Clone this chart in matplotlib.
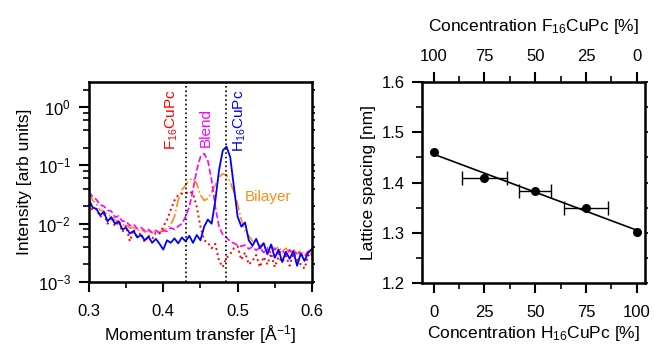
import matplotlib
matplotlib.use("Agg")
import matplotlib.pyplot as plt
import numpy as np
from matplotlib.ticker import MultipleLocator, LogLocator, NullFormatter

plt.rcParams['font.family'] = ['Liberation Sans', 'DejaVu Sans']
plt.rcParams['mathtext.fontset'] = 'custom'
plt.rcParams['mathtext.rm'] = 'Liberation Sans'
plt.rcParams['mathtext.it'] = 'Liberation Sans:italic'
plt.rcParams['mathtext.default'] = 'regular'

# --- left panel: diffraction profiles (momentum transfer in 1/A) ---
q = [0.300, 0.305, 0.310, 0.315, 0.320, 0.325, 0.330, 0.335, 0.340, 0.345,
     0.350, 0.355, 0.360, 0.365, 0.370, 0.375, 0.380, 0.385, 0.390, 0.395,
     0.400, 0.405, 0.410, 0.415, 0.420, 0.425, 0.430, 0.435, 0.440, 0.445,
     0.450, 0.455, 0.460, 0.465, 0.470, 0.475, 0.480, 0.485, 0.490, 0.495,
     0.500, 0.505, 0.510, 0.515, 0.520, 0.525, 0.530, 0.535, 0.540, 0.545,
     0.550, 0.555, 0.560, 0.565, 0.570, 0.575, 0.580, 0.585, 0.590, 0.595,
     0.600]

h16 = [0.026, 0.019, 0.018, 0.014, 0.016, 0.011, 0.013, 0.010, 0.0110, 0.0080,
       0.0085, 0.0068, 0.0075, 0.0058, 0.0064, 0.0052, 0.0060, 0.0047, 0.0055, 0.0045,
       0.0036, 0.0052, 0.0047, 0.0056, 0.0046, 0.0058, 0.0050, 0.0062, 0.0047, 0.0064,
       0.0052, 0.0089, 0.0118, 0.0100, 0.025, 0.083, 0.18, 0.21, 0.14, 0.043,
       0.0132, 0.0089, 0.0105, 0.0052, 0.0042, 0.0055, 0.0038, 0.0046, 0.0030, 0.0044,
       0.0026, 0.0036, 0.0022, 0.0033, 0.0025, 0.0034, 0.0019, 0.0031, 0.0023, 0.0032,
       0.0037]

f16 = [0.022, 0.017, 0.018, 0.013, 0.015, 0.010, 0.013, 0.0090, 0.0110, 0.0072,
       0.0092, 0.0050, 0.0080, 0.0060, 0.0070, 0.0048, 0.0063, 0.0055, 0.0070, 0.0068,
       0.0089, 0.0116, 0.0172, 0.025, 0.031, 0.033, 0.033, 0.036, 0.033, 0.0195,
       0.0089, 0.0052, 0.0047, 0.0038, 0.0045, 0.0023, 0.0018, 0.0026, 0.0030, 0.0038,
       0.0041, 0.0024, 0.0032, 0.0020, 0.0023, 0.0029, 0.0018, 0.0027, 0.0020, 0.0031,
       0.0018, 0.0027, 0.0022, 0.0028, 0.0019, 0.0031, 0.0024, 0.0020, 0.0017, 0.0029,
       0.0025]

blend = [0.035, 0.029, 0.026, 0.021, 0.0200, 0.017, 0.0165, 0.013, 0.0135, 0.011,
         0.0110, 0.0092, 0.0098, 0.0082, 0.0086, 0.0076, 0.0080, 0.0070, 0.0077, 0.0068,
         0.0076, 0.0074, 0.0085, 0.0080, 0.0090, 0.0100, 0.0132, 0.0195, 0.038, 0.083,
         0.14, 0.16, 0.12, 0.056, 0.0195, 0.0089, 0.0065, 0.0058, 0.0050, 0.0046,
         0.0043, 0.0041, 0.0043, 0.0037, 0.0040, 0.0035, 0.0039, 0.0032, 0.0037, 0.0031,
         0.0038, 0.0030, 0.0035, 0.0029, 0.0036, 0.0028, 0.0034, 0.0030, 0.0027, 0.0033,
         0.0029]

bilayer = [0.033, 0.025, 0.022, 0.017, 0.0165, 0.014, 0.0135, 0.0115, 0.0110, 0.0095,
           0.0097, 0.0084, 0.0086, 0.0076, 0.0080, 0.0072, 0.0076, 0.0070, 0.0077, 0.0071,
           0.0079, 0.0083, 0.0096, 0.0132, 0.025, 0.038, 0.046, 0.056, 0.060, 0.049,
           0.031, 0.025, 0.027, 0.035, 0.046, 0.063, 0.072, 0.068, 0.052, 0.035,
           0.022, 0.0116, 0.0074, 0.0062, 0.0050, 0.0052, 0.0041, 0.0047, 0.0039, 0.0043,
           0.0036, 0.0040, 0.0033, 0.0038, 0.0031, 0.0037, 0.0030, 0.0035, 0.0029, 0.0034,
           0.0031]

peak_positions = [0.431, 0.484]

# --- right panel: lattice spacing vs composition ---
conc_h16 = [0, 25, 50, 75, 100]
spacing = [1.460, 1.410, 1.383, 1.350, 1.301]
conc_err = [0, 11, 8, 11, 0]

fig = plt.figure(figsize=(6.54, 3.49), dpi=100)
ax = fig.add_axes([0.136, 0.192, 0.341, 0.573])
ax2 = fig.add_axes([0.646, 0.189, 0.340, 0.576])

# left panel
ax.plot(q, bilayer, color='#ff8c1a', linestyle='-.', lw=1.2)
ax.plot(q, blend, color='#ff00ff', linestyle='--', lw=1.2)
ax.plot(q, f16, color='#ff0000', linestyle=':', lw=1.4)
ax.plot(q, h16, color='#0000ff', linestyle='-', lw=1.3)
for p in peak_positions:
    ax.axvline(p, color='black', linestyle=':', lw=1.2)

ax.set_yscale('log')
ax.set_xlim(0.3, 0.6)
ax.set_ylim(1e-3, 2.7)
ax.xaxis.set_major_locator(MultipleLocator(0.1))
ax.xaxis.set_minor_locator(MultipleLocator(0.05))
ax.yaxis.set_major_locator(LogLocator(base=10, numticks=10))
ax.yaxis.set_minor_locator(LogLocator(base=10, subs=(2, 4, 6, 8), numticks=10))
ax.yaxis.set_minor_formatter(NullFormatter())
ax.tick_params(which='major', direction='out', length=7, width=1.5, labelsize=12, pad=6)
ax.tick_params(axis='x', which='major', pad=9)
ax.tick_params(which='minor', direction='out', length=4, width=1.2)
for s in ax.spines.values():
    s.set_linewidth(1.8)
ax.set_xlabel('Momentum transfer [Å$^{-1}$]', fontsize=12.5, labelpad=3)
ax.set_ylabel('Intensity [arb units]', fontsize=12.5)

axr = ax.twinx()
axr.set_yscale('log')
axr.set_ylim(ax.get_ylim())
axr.yaxis.set_major_locator(LogLocator(base=10, numticks=10))
axr.yaxis.set_minor_locator(LogLocator(base=10, subs=(2, 4, 6, 8), numticks=10))
axr.tick_params(which='both', direction='out', length=2.5, width=1.2, labelright=False)
axr.yaxis.set_minor_formatter(NullFormatter())

ax.text(0.411, 2.0, 'F$_{16}$CuPc', color='#ff0000', rotation=90, ha='center', va='top', fontsize=11)
ax.text(0.4565, 0.95, 'Blend', color='#ff00ff', rotation=90, ha='center', va='top', fontsize=11)
ax.text(0.503, 2.0, 'H$_{16}$CuPc', color='#0000ff', rotation=90, ha='center', va='top', fontsize=11)
ax.text(0.509, 0.029, 'Bilayer', color='#ff8c1a', ha='left', va='center', fontsize=11)

# right panel
slope, icpt = np.polyfit(conc_h16, spacing, 1)
xfit = np.array([conc_h16[0], conc_h16[-1]])
ax2.plot(xfit, slope * xfit + icpt, color='black', lw=1.2)
ax2.plot(conc_h16, spacing, 'o', color='black', ms=5.5)
err_idx = [i for i, e in enumerate(conc_err) if e > 0]
ax2.errorbar([conc_h16[i] for i in err_idx], [spacing[i] for i in err_idx],
             xerr=[conc_err[i] for i in err_idx], fmt='none', ecolor='black',
             elinewidth=1.0, capsize=5, capthick=1.0)
ax2.set_xlim(-5.5, 104)
ax2.set_ylim(1.2, 1.6)
ax2.xaxis.set_major_locator(MultipleLocator(25))
ax2.xaxis.set_minor_locator(MultipleLocator(12.5))
ax2.yaxis.set_major_locator(MultipleLocator(0.1))
ax2.yaxis.set_minor_locator(MultipleLocator(0.05))
ax2.tick_params(which='major', direction='out', length=7, width=1.5, labelsize=12, pad=6)
ax2.tick_params(axis='x', which='major', pad=9)
ax2.tick_params(which='minor', direction='out', length=4, width=1.2)
for s in ax2.spines.values():
    s.set_linewidth(1.8)
ax2.set_xlabel('Concentration H$_{16}$CuPc [%]', fontsize=12.5, labelpad=3)
ax2.set_ylabel('Lattice spacing [nm]', fontsize=12.5)

top = ax2.secondary_xaxis('top', functions=(lambda x: 100 - x, lambda x: 100 - x))
top.xaxis.set_major_locator(MultipleLocator(25))
top.xaxis.set_minor_locator(MultipleLocator(12.5))
top.tick_params(which='major', direction='out', length=7, width=1.5, labelsize=12, pad=6)
top.tick_params(which='minor', direction='out', length=4, width=1.2)
top.set_xlabel('Concentration F$_{16}$CuPc [%]', fontsize=12.5, labelpad=13)

ax2r = ax2.twinx()
ax2r.set_ylim(ax2.get_ylim())
ax2r.yaxis.set_major_locator(MultipleLocator(0.05))
ax2r.tick_params(direction='out', length=2.5, width=1.2, labelright=False)

fig.savefig('out.png', dpi=100)
